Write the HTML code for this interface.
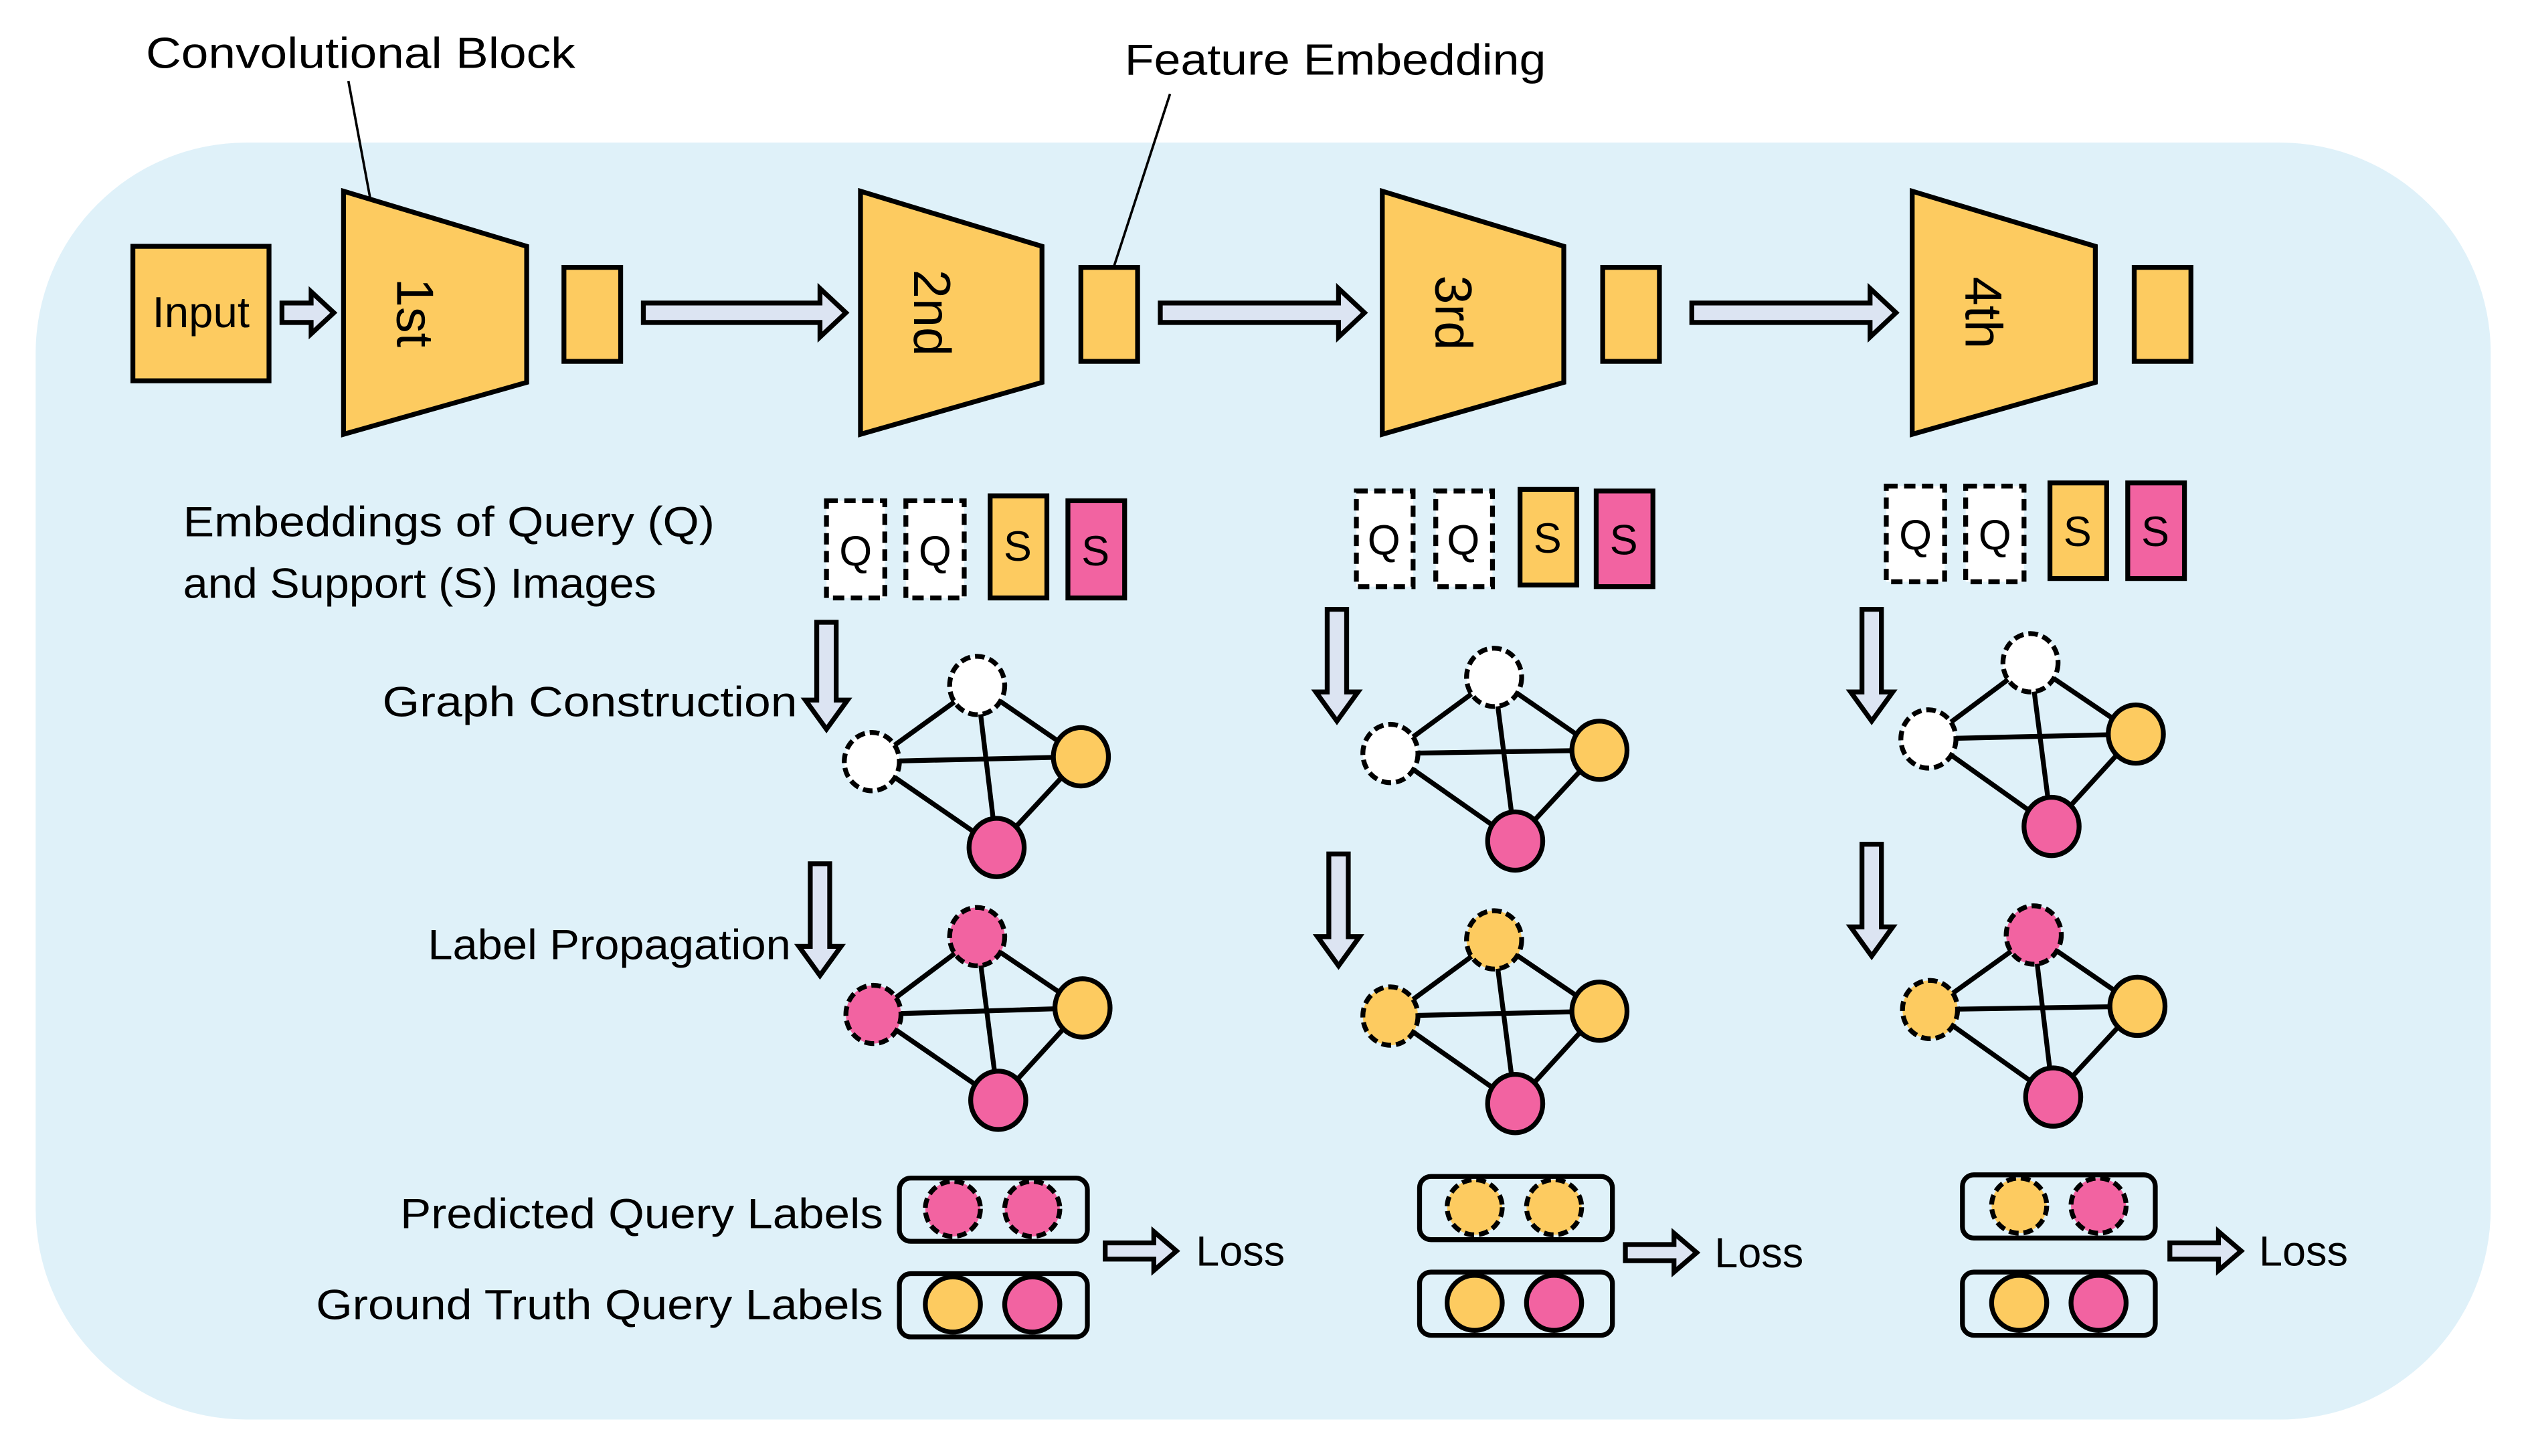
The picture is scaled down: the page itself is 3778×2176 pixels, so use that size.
<!DOCTYPE html>
<html><head><meta charset="utf-8"><style>
html,body{margin:0;padding:0;background:#fff;}
svg{display:block;}
text{font-family:"Liberation Sans",sans-serif;fill:#000;}
</style></head><body>
<svg width="3778" height="2176" viewBox="0 0 1560 898.5" preserveAspectRatio="none" xmlns="http://www.w3.org/2000/svg">
<rect x="0" y="0" width="1560" height="899" fill="#fff"/>
<rect x="22" y="88" width="1515" height="788" rx="130" fill="#dff1f9"/>

<!-- top labels -->
<text x="90" y="42" font-size="27" textLength="265" lengthAdjust="spacingAndGlyphs">Convolutional Block</text>
<line x1="215" y1="50" x2="233" y2="147" stroke="#000" stroke-width="1.5"/>
<text x="694" y="46" font-size="27" textLength="260" lengthAdjust="spacingAndGlyphs">Feature Embedding</text>
<line x1="722" y1="58" x2="683" y2="178" stroke="#000" stroke-width="1.5"/>

<g stroke="#000" stroke-width="3">
<rect x="82" y="152" width="84" height="83" fill="#fdcb60"/>
<path d="M174,187 L192,187 L192,180 L206,193 L192,206 L192,199 L174,199Z" fill="#dce4f2"/>
<polygon points="212,118 325,152 325,236 212,268" fill="#fdcb60"/>
<rect x="348" y="165" width="35" height="58" fill="#fdcb60"/>
<path d="M397,187 L506,187 L506,178 L522,193 L506,208 L506,199 L397,199Z" fill="#dce4f2"/>
<polygon points="531,118 643,152 643,236 531,268" fill="#fdcb60"/>
<rect x="667" y="165" width="35" height="58" fill="#fdcb60"/>
<path d="M716,187 L826,187 L826,178 L842,193 L826,208 L826,199 L716,199Z" fill="#dce4f2"/>
<polygon points="853,118 965,152 965,236 853,268" fill="#fdcb60"/>
<rect x="989" y="165" width="35" height="58" fill="#fdcb60"/>
<path d="M1044,187 L1154,187 L1154,178 L1170,193 L1154,208 L1154,199 L1044,199Z" fill="#dce4f2"/>
<polygon points="1180,118 1293,152 1293,236 1180,268" fill="#fdcb60"/>
<rect x="1317" y="165" width="35" height="58" fill="#fdcb60"/>
</g>
<text x="124" y="202" font-size="27" text-anchor="middle">Input</text>
<text transform="translate(245,193) rotate(90)" font-size="32" text-anchor="middle">1st</text>
<text transform="translate(564,193) rotate(90)" font-size="32" text-anchor="middle">2nd</text>
<text transform="translate(886,193) rotate(90)" font-size="32" text-anchor="middle">3rd</text>
<text transform="translate(1213,193) rotate(90)" font-size="32" text-anchor="middle">4th</text>

<!-- Q/S boxes -->
<text x="113" y="331" font-size="26" textLength="328" lengthAdjust="spacingAndGlyphs">Embeddings of Query (Q)</text>
<text x="113" y="369" font-size="26" textLength="292" lengthAdjust="spacingAndGlyphs">and Support (S) Images</text>
<g stroke="#000" stroke-width="3">
<rect x="510" y="309" width="36" height="60" fill="#fff" stroke-dasharray="7,4"/>
<rect x="559" y="309" width="36" height="60" fill="#fff" stroke-dasharray="7,4"/>
<rect x="611" y="306" width="35" height="63" fill="#fdcb60"/>
<rect x="659" y="309" width="35" height="60" fill="#f263a1"/>
<rect x="837" y="303" width="35" height="59" fill="#fff" stroke-dasharray="7,4"/>
<rect x="886" y="303" width="35" height="59" fill="#fff" stroke-dasharray="7,4"/>
<rect x="938" y="302" width="35" height="59" fill="#fdcb60"/>
<rect x="985" y="303" width="35" height="59" fill="#f263a1"/>
<rect x="1164" y="300" width="36" height="59" fill="#fff" stroke-dasharray="7,4"/>
<rect x="1213" y="300" width="36" height="59" fill="#fff" stroke-dasharray="7,4"/>
<rect x="1265" y="298" width="35" height="59" fill="#fdcb60"/>
<rect x="1313" y="298" width="35" height="59" fill="#f263a1"/>
</g>
<g font-size="26" text-anchor="middle">
<text x="528" y="349">Q</text><text x="577" y="349">Q</text><text x="628" y="346">S</text><text x="676" y="349">S</text>
<text x="854" y="342">Q</text><text x="903" y="342">Q</text><text x="955" y="341">S</text><text x="1002" y="342">S</text>
<text x="1182" y="339">Q</text><text x="1231" y="339">Q</text><text x="1282" y="337">S</text><text x="1330" y="337">S</text>
</g>

<!-- down arrows -->
<g stroke="#000" stroke-width="3" fill="#dce4f2">
<path d="M504,384 L516,384 L516,432 L523,432 L510,450 L497,432 L504,432Z"/>
<path d="M819,376 L831,376 L831,427 L838,427 L825,445 L812,427 L819,427Z"/>
<path d="M1149,376 L1161,376 L1161,427 L1168,427 L1155,445 L1142,427 L1149,427Z"/>
<path d="M500,533 L512,533 L512,584 L519,584 L506,602 L493,584 L500,584Z"/>
<path d="M820,527 L832,527 L832,578 L839,578 L826,596 L813,578 L820,578Z"/>
<path d="M1149,521 L1161,521 L1161,572 L1168,572 L1155,590 L1142,572 L1149,572Z"/>
</g>
<text x="236" y="442" font-size="26" textLength="256" lengthAdjust="spacingAndGlyphs">Graph Construction</text>
<text x="264" y="592" font-size="26" textLength="224" lengthAdjust="spacingAndGlyphs">Label Propagation</text>

<!-- graphs: edges -->
<g stroke="#000" stroke-width="3">
<path d="M603,423 L538,470 M603,423 L667,467 M603,423 L615,523 M538,470 L667,467 M538,470 L615,523 M667,467 L615,523"/>
<path d="M922,418 L858,465 M922,418 L987,463 M922,418 L935,519 M858,465 L987,463 M858,465 L935,519 M987,463 L935,519"/>
<path d="M1253,409 L1190,456 M1253,409 L1318,453 M1253,409 L1266,510 M1190,456 L1318,453 M1190,456 L1266,510 M1318,453 L1266,510"/>
<path d="M603,578 L539,626 M603,578 L668,622 M603,578 L616,679 M539,626 L668,622 M539,626 L616,679 M668,622 L616,679"/>
<path d="M922,580 L858,627 M922,580 L987,624 M922,580 L935,681 M858,627 L987,624 M858,627 L935,681 M987,624 L935,681"/>
<path d="M1255,577 L1191,623 M1255,577 L1319,621 M1255,577 L1267,677 M1191,623 L1319,621 M1191,623 L1267,677 M1319,621 L1267,677"/>
</g>
<g stroke="#000" stroke-width="3">
<ellipse cx="603" cy="423" rx="17" ry="18" fill="#fff" stroke-dasharray="6,3"/>
<ellipse cx="538" cy="470" rx="17" ry="18" fill="#fff" stroke-dasharray="6,3"/>
<ellipse cx="667" cy="467" rx="17" ry="18" fill="#fdcb60"/>
<ellipse cx="615" cy="523" rx="17" ry="18" fill="#f263a1"/>
<ellipse cx="922" cy="418" rx="17" ry="18" fill="#fff" stroke-dasharray="6,3"/>
<ellipse cx="858" cy="465" rx="17" ry="18" fill="#fff" stroke-dasharray="6,3"/>
<ellipse cx="987" cy="463" rx="17" ry="18" fill="#fdcb60"/>
<ellipse cx="935" cy="519" rx="17" ry="18" fill="#f263a1"/>
<ellipse cx="1253" cy="409" rx="17" ry="18" fill="#fff" stroke-dasharray="6,3"/>
<ellipse cx="1190" cy="456" rx="17" ry="18" fill="#fff" stroke-dasharray="6,3"/>
<ellipse cx="1318" cy="453" rx="17" ry="18" fill="#fdcb60"/>
<ellipse cx="1266" cy="510" rx="17" ry="18" fill="#f263a1"/>

<ellipse cx="603" cy="578" rx="17" ry="18" fill="#f263a1" stroke-dasharray="6,3"/>
<ellipse cx="539" cy="626" rx="17" ry="18" fill="#f263a1" stroke-dasharray="6,3"/>
<ellipse cx="668" cy="622" rx="17" ry="18" fill="#fdcb60"/>
<ellipse cx="616" cy="679" rx="17" ry="18" fill="#f263a1"/>
<ellipse cx="922" cy="580" rx="17" ry="18" fill="#fdcb60" stroke-dasharray="6,3"/>
<ellipse cx="858" cy="627" rx="17" ry="18" fill="#fdcb60" stroke-dasharray="6,3"/>
<ellipse cx="987" cy="624" rx="17" ry="18" fill="#fdcb60"/>
<ellipse cx="935" cy="681" rx="17" ry="18" fill="#f263a1"/>
<ellipse cx="1255" cy="577" rx="17" ry="18" fill="#f263a1" stroke-dasharray="6,3"/>
<ellipse cx="1191" cy="623" rx="17" ry="18" fill="#fdcb60" stroke-dasharray="6,3"/>
<ellipse cx="1319" cy="621" rx="17" ry="18" fill="#fdcb60"/>
<ellipse cx="1267" cy="677" rx="17" ry="18" fill="#f263a1"/>
</g>

<!-- bottom labels -->
<text x="247" y="758" font-size="26" textLength="298" lengthAdjust="spacingAndGlyphs">Predicted Query Labels</text>
<text x="195" y="814" font-size="26" textLength="350" lengthAdjust="spacingAndGlyphs">Ground Truth Query Labels</text>
<g stroke="#000" stroke-width="3">
<rect x="555" y="727" width="116" height="39" rx="7" fill="none"/>
<rect x="555" y="786" width="116" height="39" rx="7" fill="none"/>
<rect x="876" y="726" width="119" height="39" rx="7" fill="none"/>
<rect x="876" y="785" width="119" height="39" rx="7" fill="none"/>
<rect x="1211" y="725" width="119" height="39" rx="7" fill="none"/>
<rect x="1211" y="785" width="119" height="39" rx="7" fill="none"/>

<ellipse cx="588" cy="746" rx="17" ry="17" fill="#f263a1" stroke-dasharray="6,3"/>
<ellipse cx="637" cy="746" rx="17" ry="17" fill="#f263a1" stroke-dasharray="6,3"/>
<ellipse cx="588" cy="805" rx="17" ry="17" fill="#fdcb60"/>
<ellipse cx="637" cy="805" rx="17" ry="17" fill="#f263a1"/>
<ellipse cx="910" cy="745" rx="17" ry="17" fill="#fdcb60" stroke-dasharray="6,3"/>
<ellipse cx="959" cy="745" rx="17" ry="17" fill="#fdcb60" stroke-dasharray="6,3"/>
<ellipse cx="910" cy="804" rx="17" ry="17" fill="#fdcb60"/>
<ellipse cx="959" cy="804" rx="17" ry="17" fill="#f263a1"/>
<ellipse cx="1246" cy="744" rx="17" ry="17" fill="#fdcb60" stroke-dasharray="6,3"/>
<ellipse cx="1295" cy="744" rx="17" ry="17" fill="#f263a1" stroke-dasharray="6,3"/>
<ellipse cx="1246" cy="804" rx="17" ry="17" fill="#fdcb60"/>
<ellipse cx="1295" cy="804" rx="17" ry="17" fill="#f263a1"/>

<path d="M682,767 L712,767 L712,760 L726,772 L712,784 L712,777 L682,777Z" fill="#dce4f2"/>
<path d="M1003,768 L1033,768 L1033,761 L1047,773 L1033,785 L1033,778 L1003,778Z" fill="#dce4f2"/>
<path d="M1339,767 L1369,767 L1369,760 L1383,772 L1369,784 L1369,777 L1339,777Z" fill="#dce4f2"/>
</g>
<text x="738" y="781" font-size="26">Loss</text>
<text x="1058" y="782" font-size="26">Loss</text>
<text x="1394" y="781" font-size="26">Loss</text>
</svg>
</body></html>
